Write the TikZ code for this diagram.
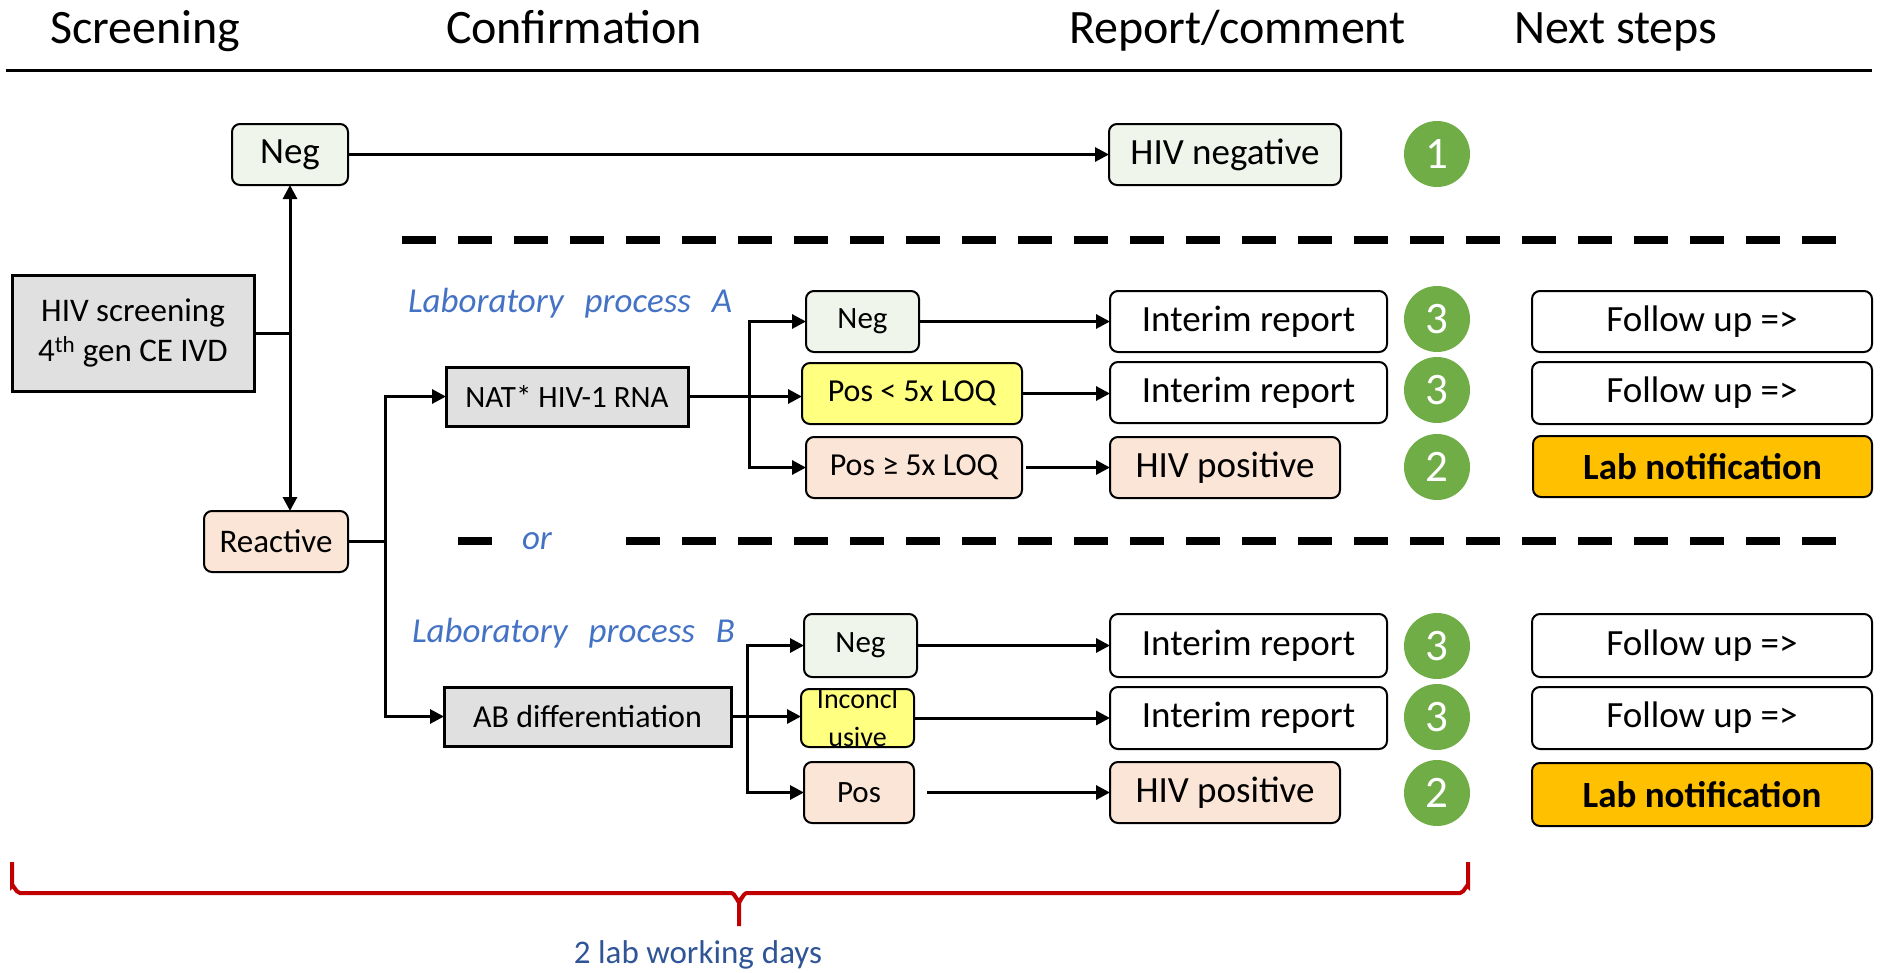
\documentclass[tikz,border=0pt]{standalone}
\usepackage{fontspec}
\setmainfont{Carlito}
\usetikzlibrary{arrows.meta,calc}
\definecolor{negfill}{HTML}{F0F5EC}
\definecolor{posfill}{HTML}{FBE5D6}
\definecolor{yel}{HTML}{FFFF80}
\definecolor{grayfill}{HTML}{E0E0E0}
\definecolor{grn}{HTML}{70AD47}
\definecolor{gold}{HTML}{FFC000}
\definecolor{blu}{HTML}{4472C4}
\definecolor{bracered}{HTML}{C00000}
\definecolor{darkblu}{HTML}{2F5597}
\begin{document}
\begin{tikzpicture}[x=1pt,y=-1pt,
  every node/.style={inner sep=0pt, outer sep=0pt},
  rbox/.style={draw, line width=2pt, rounded corners=8pt, align=center},
  sbox/.style={draw, line width=3pt, fill=grayfill, align=center},
  fbig/.style={font=\fontsize{37}{40}\selectfont},
  fmid/.style={font=\fontsize{33}{40}\selectfont},
  fsmall/.style={font=\fontsize{31}{34}\selectfont},
  arr/.style={line width=3pt, -{Triangle[length=14pt,width=14pt]}},
  ln/.style={line width=3pt},
  dsh/.style={line width=8pt, dash pattern=on 34pt off 22pt},
  num/.style={circle, fill=grn, text=white, minimum size=66pt, font=\fontsize{45}{45}\selectfont},
  lbl/.style={text=blu, font=\fontsize{35}{40}\selectfont\itshape},
  hdr/.style={anchor=base west, font=\fontsize{48}{52}\selectfont}
]
\useasboundingbox (0,0) rectangle (1884,972);

% headers
\node[hdr] (h1) at (50,43) {Screening};
\node[hdr] (h2) at (446,43) {Confirmation};
\node[hdr] (h3) at (1069,43) {Report/comment};
\node[hdr] (h4) at (1514,43) {Next steps};
\draw[line width=3pt] (6,70) -- (1872,70);

% dashed separators
\draw[dsh] (402,240) -- (1838,240);
\draw[dsh] (458,541) -- (492,541);
\draw[dsh] (626,541) -- (1838,541);
\node[lbl, anchor=west] (labA) at (408,303) {Laboratory\hspace{21pt}process\hspace{21pt}A};
\node[lbl, anchor=west] (labB) at (412,633) {Laboratory\hspace{21pt}process\hspace{21pt}B};
\node[lbl] (or) at (537,541) {or};

% screening
\node[sbox, fmid, minimum width=242pt, minimum height=116pt] (screen) at (133,333) {HIV screening\\4\textsuperscript{th} gen CE IVD};
\node[rbox, fill=negfill, fbig, minimum width=116pt, minimum height=61pt] (negtop) at (290,154.5) {Neg};
\node[rbox, fill=posfill, fmid, minimum width=144pt, minimum height=61pt] (reactive) at (276,541.5) {Reactive};
\node[rbox, fill=negfill, fbig, minimum width=232pt, minimum height=61pt] (hivneg) at (1225,154.5) {HIV negative};
\node[num] (c1) at (1437,154) {1};

% confirmation boxes
\node[sbox, fsmall, minimum width=242pt, minimum height=59pt] (nat) at (567,396.5) {NAT* HIV-1 RNA};
\node[sbox, font=\fontsize{32}{34}\selectfont, minimum width=287pt, minimum height=59pt] (ab) at (587.5,716.5) {AB differentiation};

% process A results
\node[rbox, fill=negfill, fsmall, minimum width=113pt, minimum height=61pt] (negA) at (862.5,321.5) {Neg};
\node[rbox, fill=yel, font=\fontsize{32}{34}\selectfont, minimum width=220pt, minimum height=61pt] (posltA) at (912,393.5) {Pos {<} 5x LOQ};
\node[rbox, fill=posfill, font=\fontsize{32}{34}\selectfont, minimum width=216pt, minimum height=61pt] (posgeA) at (914,467.5) {Pos ≥ 5x LOQ};
\node[rbox, fbig, minimum width=277pt, minimum height=61pt] (intA1) at (1248.5,321.5) {Interim report};
\node[rbox, fbig, minimum width=277pt, minimum height=61pt] (intA2) at (1248.5,392.5) {Interim report};
\node[rbox, fill=posfill, fbig, minimum width=230pt, minimum height=61pt] (hivposA) at (1225,467.5) {HIV positive};
\node[num] (c3a) at (1437,319) {3};
\node[num] (c3b) at (1437,390) {3};
\node[num] (c2a) at (1437,467) {2};
\node[rbox, fbig, minimum width=340pt, minimum height=61pt] (fuA1) at (1702,321.5) {Follow up =>};
\node[rbox, fbig, minimum width=340pt, minimum height=62pt] (fuA2) at (1702,393) {Follow up =>};
\node[rbox, fill=gold, font=\fontsize{37}{40}\selectfont\bfseries, minimum width=339pt, minimum height=61pt] (labnA) at (1702.5,466.5) {Lab notification};

% process B results
\node[rbox, fill=negfill, fsmall, minimum width=113pt, minimum height=63pt] (negB) at (860.5,645.5) {Neg};
\node[rbox, fill=yel, minimum width=113pt, minimum height=58pt] (incB) at (857.5,718) {};
\node[align=center, font=\fontsize{28}{38}\selectfont] (incBtxt) at (incB.center) {Inconcl\\usive};
\node[rbox, fill=posfill, fsmall, minimum width=110pt, minimum height=61pt] (posB) at (859,792.5) {Pos};
\node[rbox, fbig, minimum width=277pt, minimum height=63pt] (intB1) at (1248.5,645.5) {Interim report};
\node[rbox, fbig, minimum width=277pt, minimum height=62pt] (intB2) at (1248.5,718) {Interim report};
\node[rbox, fill=posfill, fbig, minimum width=230pt, minimum height=61pt] (hivposB) at (1225,792.5) {HIV positive};
\node[num] (c3c) at (1437,646) {3};
\node[num] (c3d) at (1437,717) {3};
\node[num] (c2b) at (1437,793) {2};
\node[rbox, fbig, minimum width=340pt, minimum height=63pt] (fuB1) at (1702,645.5) {Follow up =>};
\node[rbox, fbig, minimum width=340pt, minimum height=62pt] (fuB2) at (1702,718) {Follow up =>};
\node[rbox, fill=gold, font=\fontsize{37}{40}\selectfont\bfseries, minimum width=340pt, minimum height=63pt] (labnB) at (1702,794.5) {Lab notification};

% connectors: screening
\draw[ln] (screen.east) -- (screen.east -| negtop.south);
\draw[arr] (screen.east -| negtop.south) -- (negtop.south);
\draw[arr] (screen.east -| negtop.south) -- (negtop.south |- reactive.north);
\draw[arr] (negtop.east) -- (hivneg.west);

\coordinate (j2) at (385,541.5);
\draw[ln] (reactive.east) -- (j2);
\draw[arr] (j2) |- (nat.west);
\draw[arr] (j2) |- (ab.west);

% process A
\coordinate (jA) at (749,396.5);
\draw[arr] (nat.east) -- (nat.east -| posltA.west);
\draw[arr] (jA) |- (negA.west);
\draw[arr] (jA) |- (posgeA.west);
\draw[arr] (negA.east) -- (intA1.west);
\draw[arr] (posltA.east) -- (posltA.east -| intA2.west);
\draw[arr] ([xshift=4pt]posgeA.east) -- (posgeA.east -| hivposA.west);

% process B
\coordinate (jB) at (747,716.5);
\draw[arr] (ab.east) -- (ab.east -| incB.west);
\draw[arr] (jB) |- (negB.west);
\draw[arr] (jB) |- (posB.west);
\draw[arr] (negB.east) -- (intB1.west);
\draw[arr] (incB.east) -- (incB.east -| intB2.west);
\draw[arr] ([xshift=13pt]posB.east) -- (posB.east -| hivposB.west);

% brace
\draw[bracered, line width=4pt] (12,862) -- (12,886) to[out=90,in=180] (20,893) -- (731,893) to[out=0,in=-90] (739,901) -- (739,926);
\draw[bracered, line width=4pt] (739,901) to[out=-90,in=180] (747,893) -- (1460,893) to[out=0,in=90] (1468,886) -- (1468,862);
\node[text=darkblu, font=\fontsize{33}{36}\selectfont] (days) at (698,955) {2 lab working\hspace{8pt}days};
\end{tikzpicture}
\end{document}
